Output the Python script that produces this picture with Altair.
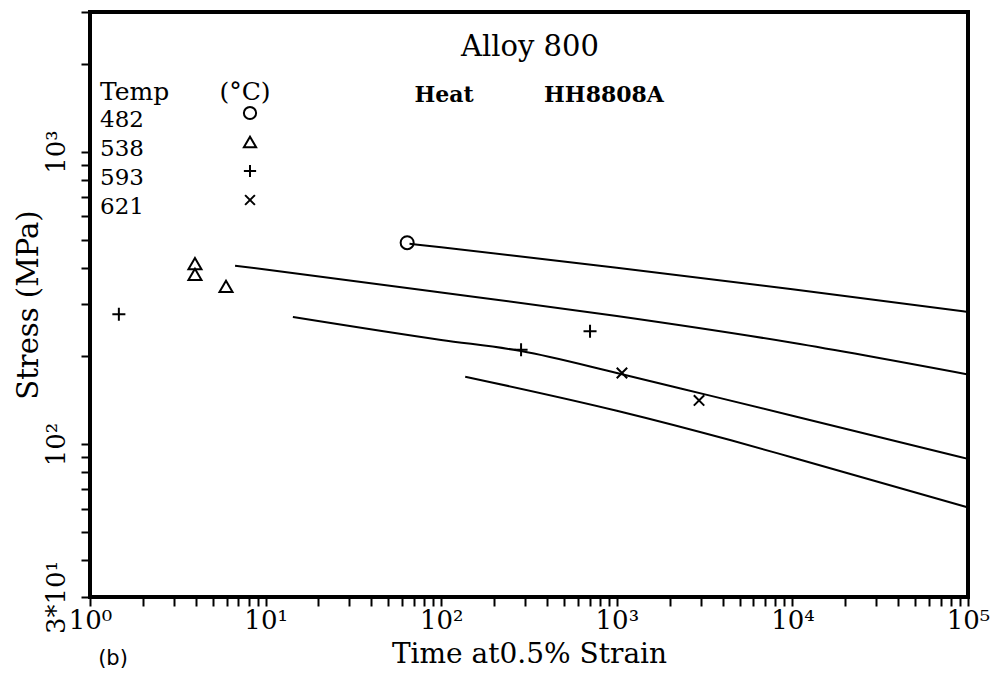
import altair as alt
import pandas as pd

# ---- fitted curves (time h, stress MPa) ----
c482_t = [66, 100, 1000, 10000, 100000]
c482_s = [484, 471, 401, 338, 283]
c538_t = [6.7, 10, 100, 1000, 10000, 100000]
c538_s = [407, 395, 330, 274, 222, 173]
c593_t = [14.3, 100, 285, 1000, 3306, 10000, 100000]
c593_s = [272, 227, 208, 175, 147, 125, 89]
c621_t = [137, 1000, 4470, 10000, 100000]
c621_s = [170, 130, 103, 90, 60.7]

# ---- measured points ----
p482_t = [64]
p482_s = [488]
p538_t = [3.96, 3.96, 5.95]
p538_s = [414, 380, 346]
p593_t = [1.46, 285, 704]
p593_s = [278, 210, 243]
p621_t = [1070, 2940]
p621_s = [175, 141]

temps = ["482", "538", "593", "621"]

x_major = [1, 10, 100, 1000, 10000, 100000]
x_major_labels = ["10⁰", "10¹", "10²", "10³", "10⁴", "10⁵"]
y_major = [30, 100, 1000]
y_major_labels = ["3*10¹", "10²", "10³"]

x_ticks = [k * m for m in x_major[:-1] for k in range(1, 10)] + [x_major[-1]]
y_ticks = [30, 40, 50, 60, 70, 80, 90] + [k * 100 for k in range(1, 10)] + [1000, 2000, 3000]

def label_expr(vals, labs):
    e = "''"
    for v, l in reversed(list(zip(vals, labs))):
        e = f"datum.value=={v}?'{l}':({e})"
    return e

curves = pd.concat([
    pd.DataFrame({"t": t, "s": s, "temp": tp})
    for t, s, tp in [(c482_t, c482_s, "482"), (c538_t, c538_s, "538"),
                     (c593_t, c593_s, "593"), (c621_t, c621_s, "621")]
])
points = pd.concat([
    pd.DataFrame({"t": t, "s": s, "temp": tp})
    for t, s, tp in [(p482_t, p482_s, "482"), (p538_t, p538_s, "538"),
                     (p593_t, p593_s, "593"), (p621_t, p621_s, "621")]
])
legend_df = pd.DataFrame({"temp": temps})

FONT = "DejaVu Serif"

xenc = alt.X("t:Q", scale=alt.Scale(type="log", domain=[1, 100000]),
             axis=alt.Axis(values=x_ticks, labelExpr=label_expr(x_major, x_major_labels),
                           title="Time at0.5% Strain", grid=False, domain=False,
                           tickSize=9, tickWidth=2, tickColor="black",
                           labelFont=FONT, labelFontSize=26, labelColor="black",
                           labelPadding=1, labelOverlap=False, labelFlush=False,
                           titleFont=FONT, titleFontSize=28, titleFontWeight="normal",
                           titleColor="black", titlePadding=7))
yenc = alt.Y("s:Q", scale=alt.Scale(type="log", domain=[30, 3000]),
             axis=alt.Axis(values=y_ticks, labelExpr=label_expr(y_major, y_major_labels),
                           title="Stress (MPa)", grid=False, domain=False,
                           tickSize=9, tickWidth=2, tickColor="black",
                           labelFont=FONT, labelFontSize=26, labelColor="black",
                           labelAngle=270, labelPadding=12, labelOverlap=False, labelFlush=False,
                           titleFont=FONT, titleFontSize=29, titleFontWeight="normal",
                           titleColor="black", titlePadding=0))

plus_path = "M-1,0H1M0,-1V1"
x_path = "M-0.8,-0.8L0.8,0.8M-0.8,0.8L0.8,-0.8"
shape_scale = alt.Scale(domain=temps, range=["circle", "triangle-up", plus_path, x_path])

lines = alt.Chart(curves).mark_line(color="black", strokeWidth=2,
                                    interpolate="monotone").encode(
    x=xenc, y=yenc, detail="temp:N", order="t:Q")

pts = alt.Chart(points).mark_point(filled=False, color="black", strokeWidth=2,
                                   size=170, opacity=1).encode(
    x=xenc, y=yenc, shape=alt.Shape("temp:N", scale=shape_scale, legend=None))

# legend rows placed through an ordinal (point) scale
ley = alt.Y("temp:N", scale=alt.Scale(domain=temps, range=[101, 188], padding=0), axis=None)
leg_sym = alt.Chart(legend_df).mark_point(filled=False, color="black", strokeWidth=2,
                                          size=150, opacity=1).encode(
    x=alt.value(160), y=ley, shape=alt.Shape("temp:N", scale=shape_scale, legend=None))
leg_lab = alt.Chart(legend_df).mark_text(font=FONT, fontSize=23, color="black",
                                         align="left", baseline="middle", dy=7).encode(
    x=alt.value(10), y=ley, text="temp:N")

def note(txt, x, y, size, weight="normal", font=FONT, align="center"):
    return alt.Chart(pd.DataFrame({"txt": [txt]})).mark_text(
        font=font, fontSize=size, fontWeight=weight, color="black",
        align=align, baseline="middle").encode(
        text="txt:N", x=alt.value(x), y=alt.value(y))

main = alt.layer(
    lines, pts,
    note("Alloy 800", 440, 35, 29),
    note("Heat", 354, 83, 22, "bold"),
    note("HH8808A", 514, 83, 22, "bold"),
    note("Temp", 10, 80, 25, align="left"),
    note("(°C)", 155, 80, 25),
    note("(b)", 23, 647, 21, "normal", "DejaVu Sans"),
)
legend_layer = alt.layer(leg_sym, leg_lab)

chart = alt.layer(main, legend_layer).resolve_scale(y="independent").properties(
    width=878, height=585,
    autosize=alt.AutoSizeParams(type="none"),
    padding={"left": 82, "top": 4, "right": 22, "bottom": 72},
    background="white",
).configure_view(stroke="black", strokeWidth=4)

chart.save("out.html", embed_options={"renderer": "svg", "actions": False})
